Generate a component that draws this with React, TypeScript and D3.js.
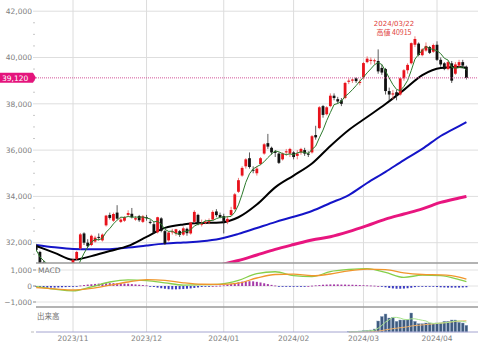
import * as d3 from 'd3'

// trading days shown, per month
const months: [string, number[]][] = [
  ['2023/10', [18, 19, 20, 23, 24, 25, 26, 27, 30, 31]],
  ['2023/11', [1, 2, 6, 7, 8, 9, 10, 13, 14, 15, 16, 17, 20, 21, 22, 24, 27, 28, 29, 30]],
  ['2023/12', [1, 4, 5, 6, 7, 8, 11, 12, 13, 14, 15, 18, 19, 20, 21, 22, 25, 26, 27, 28, 29]],
  ['2024/01', [4, 5, 9, 10, 11, 12, 15, 16, 17, 18, 19, 22, 23, 24, 25, 26, 29, 30, 31]],
  ['2024/02', [1, 2, 5, 6, 7, 8, 9, 13, 14, 15, 16, 19, 20, 21, 22, 26, 27, 28, 29]],
  ['2024/03', [1, 4, 5, 6, 7, 8, 11, 12, 13, 14, 15, 18, 19, 21, 22, 25, 26, 27, 28, 29]],
  ['2024/04', [1, 2, 3, 4, 5, 8, 9, 10, 11]],
]

const open = [
  31880, 31600, 31150, 30800, 30850, 30850, 30600, 30450, 30400, 30300,
  30800, 31300, 31750, 32400, 32000, 31900, 32050, 32250, 32100, 32750,
  33200, 32950, 33300, 32900, 32950, 33200, 33250, 33000, 33150, 32900,
  33100, 32900, 32800, 32450, 33050, 32500, 32100, 32450, 32400, 32500,
  32350, 32600, 32400, 32900, 33200, 32800, 32850, 32900, 33000, 33350,
  33200, 33150, 32900, 33200, 33450, 34200, 34900, 35300, 35650, 35150,
  35000, 35400, 35850, 36300, 36100, 35950, 35850, 35600, 35900, 35850,
  35900, 35750, 35900, 36000, 35850, 35900, 36650, 36950, 37900, 37550,
  37900, 38350, 38200, 38150, 38250, 38950, 39000, 39100, 38900, 39150,
  39800, 39850, 39850, 39850, 39550, 39500, 38550, 38400, 38500, 38400,
  39100, 39450, 39750, 40550, 40600, 40100, 40300, 40450, 40250, 40550,
  39900, 39750, 39500, 39750, 39300, 39650, 39800, 39600,
]
const high = [
  31950, 31650, 31250, 30900, 31000, 31050, 30650, 30750, 30500, 30600,
  31300, 31650, 32420, 32450, 32150, 32350, 32300, 32400, 32400, 33200,
  33300, 33300, 33620, 33100, 33150, 33400, 33500, 33150, 33200, 33200,
  33200, 33000, 32900, 33120, 33100, 32550, 32500, 32600, 32600, 32550,
  32700, 32650, 32900, 33400, 33250, 33000, 33000, 33050, 33400, 33450,
  33300, 33250, 33150, 33550, 34150, 34800, 35300, 35650, 35900, 35300,
  35300, 35700, 36300, 36700, 36150, 36000, 35900, 35900, 36050, 36100,
  35950, 36000, 36100, 36100, 35950, 36650, 37050, 37900, 37950, 37900,
  38450, 38450, 38300, 38250, 38950, 39100, 39100, 39150, 39050, 39800,
  40050, 40000, 39950, 40350, 39700, 39550, 38700, 38600, 38600, 39150,
  39500, 39750, 40650, 40915, 40650, 40400, 40650, 40500, 40600, 40700,
  40000, 39800, 39850, 39850, 39800, 39900, 39900, 39650,
]
const low = [
  31620, 31020, 30850, 30550, 30650, 30800, 30200, 30400, 30150, 30200,
  30750, 31250, 31700, 31900, 31800, 31850, 32000, 32100, 32050, 32700,
  33000, 32900, 33000, 32850, 32900, 33150, 33050, 32950, 32900, 32850,
  32950, 32800, 32400, 32400, 32450, 31900, 32050, 32350, 32300, 32250,
  32300, 32300, 32350, 32850, 32750, 32700, 32800, 32800, 32950, 33100,
  33050, 32400, 32800, 33150, 33400, 34150, 34850, 35200, 35200, 35000,
  34900, 35350, 35800, 36050, 35800, 35700, 35400, 35550, 35750, 35700,
  35600, 35600, 35800, 35750, 35700, 35850, 36450, 36900, 37400, 37500,
  37850, 38150, 38000, 37900, 38200, 38850, 38900, 38900, 38800, 39050,
  39750, 39700, 39700, 39300, 39250, 38400, 38150, 38200, 38150, 38350,
  39000, 39300, 39700, 40450, 40050, 40050, 40250, 40150, 40200, 39850,
  39600, 39450, 39450, 38900, 39250, 39550, 39600, 39050,
]
const close = [
  31690, 31080, 30910, 30650, 30710, 30920, 30250, 30640, 30350, 30510,
  31250, 31600, 32360, 32000, 31850, 32300, 32220, 32240, 32350, 33170,
  33070, 33240, 33040, 33000, 33100, 33280, 33100, 33060, 32970, 33140,
  33080, 32880, 32430, 33100, 32510, 31960, 32440, 32490, 32580, 32340,
  32620, 32410, 32870, 33330, 32790, 32820, 32900, 32950, 33330, 33190,
  33110, 32940, 33030, 33410, 34090, 34700, 35230, 35600, 35270, 35130,
  35200, 35650, 36250, 36150, 35900, 35880, 35450, 35850, 35950, 36050,
  35700, 35850, 36050, 35850, 35800, 36600, 36550, 37850, 37520, 37850,
  38350, 38250, 38100, 38000, 38900, 39000, 39050, 38980, 38950, 39760,
  39950, 39900, 39880, 39400, 39350, 38550, 38400, 38450, 38350, 39100,
  39450, 39680, 40620, 40800, 40110, 40350, 40500, 40200, 40540, 39900,
  39700, 39500, 39800, 39000, 39700, 39800, 39650, 39120,
]

// moving averages read every 5 sessions
const maIdx = [0, 5, 10, 15, 20, 25, 30, 35, 40, 45, 50, 55, 60, 65, 70, 75, 80, 85, 90, 95, 100, 105, 110, 115, 117]
const ma25 = [31860, 31560, 31260, 31420, 31640, 31860, 32250, 32640, 32790, 32850, 32870, 33100, 33650, 34390, 34900, 35420, 36180, 36870, 37430, 37990, 38600, 39240, 39550, 39590, 39560]
const ma75 = [31900, 31800, 31730, 31715, 31720, 31790, 31880, 31960, 32010, 32060, 32170, 32380, 32635, 32890, 33120, 33370, 33715, 34060, 34580, 35060, 35570, 36050, 36610, 37040, 37210]
const ma200 = [null, null, null, null, null, null, null, null, null, 30850, 31040, 31230, 31470, 31710, 31920, 32120, 32260, 32480, 32740, 33020, 33240, 33460, 33740, 33930, 34000]

const macd = [-40, -200, -300, -50, 250, 380, 330, 200, 60, 80, 120, 350, 780, 890, 650, 580, 900, 1030, 1090, 850, 540, 680, 650, 400, 270]
const signal = [-100, -180, -250, -150, 50, 250, 400, 350, 200, 110, 100, 180, 500, 720, 740, 640, 750, 950, 1050, 1020, 820, 720, 690, 560, 430]
const hist = [
  -60, -80, -100, -110, -100, -100, -90, -80, -70, -60,
  -40, -10, 30, 60, 90, 110, 130, 150, 160, 170,
  180, 180, 170, 160, 150, 140, 120, 100, 80, 60,
  40, -20, -60, -100, -140, -170, -200, -210, -210, -200,
  -190, -170, -150, -120, -90, -60, -40, -20, 0, 10,
  20, 40, 80, 130, 180, 230, 270, 290, 300, 290,
  260, 220, 170, 120, 70, 30, -10, -30, -40, -40,
  -40, -40, -30, -20, 0, 20, 40, 60, 80, 90,
  100, 100, 100, 90, 90, 80, 80, 70, 60, 50,
  40, 30, 20, 0, -40, -80, -120, -150, -170, -170,
  -160, -140, -110, -70, -40, -20, -10, -20, -40, -60,
  -80, -90, -100, -100, -100, -100, -90, -80,
]

const volume = [
  0, 0, 0, 0, 0, 0, 0, 0, 0, 0, 0, 0, 0, 0, 0, 0, 0, 0, 0, 0,
  0, 0, 0, 0, 0, 0, 0, 0, 0, 0, 0, 0, 0, 0, 0, 0, 0, 0, 0, 0,
  0, 0, 0, 0, 0, 0, 0, 0, 0, 0, 0, 0, 0, 0, 0, 0, 0, 0, 0, 0,
  0, 0, 0, 0, 0, 0, 0, 0, 0, 0, 0, 0, 0, 0, 0, 0, 0, 0, 0, 0,
  0, 0, 0, 0, 0, 300, 500, 800, 1000, 1300,
  1500, 2000, 3000, 11000, 15500, 18000, 14000, 14700, 10700, 12000,
  12000, 12300, 19000, 10700, 8300, 8300, 9000, 9000, 8300, 9000,
  9000, 10700, 10700, 12000, 12000, 9700, 9000, 6700,
]

const priceTicks = [32000, 34000, 36000, 38000, 40000, 42000]
const macdTicks = [1000, 0, -1000]
const lastPrice = 39120
const peakLabel = ['2024/03/22', '高値 40915']

const dates = months.flatMap(([m, ds]) => ds.map(d => `${m}/${String(d).padStart(2, '0')}`))
const monthStarts = months.slice(1).map(([m]) => ({ label: m, i: dates.findIndex(d => d.startsWith(m)) }))

const FONT = 'DejaVu Sans, Verdana, sans-serif'

export default function App() {
  const W = 480
  const H = 352
  const left = 36
  const right = 478
  const priceBottom = 263
  const macdBottom = 307
  const volBottom = 332

  const x = d3.scaleLinear().domain([10, 109]).range([73, 437])
  const y = d3.scaleLinear().domain([32000, 42000]).range([242.7, 11.2])
  const yM = d3.scaleLinear().domain([-1000, 1000]).range([302, 270])
  const yV = d3.scaleLinear().domain([0, 25000]).range([volBottom, volBottom - 25])

  const ma5 = close.map((_, i) => d3.mean(close.slice(Math.max(0, i - 4), i + 1)) as number)
  const volStart = volume.findIndex(v => v > 0)
  const volMa = (n: number) => volume.map((_, i) => d3.mean(volume.slice(Math.max(0, i - n + 1), i + 1)) as number)
  const vma5 = volMa(5)
  const vma25 = volMa(25)

  const sampled = (vals: (number | null)[], sy: (v: number) => number) =>
    d3.line<number | null>()
      .defined(v => v != null)
      .x((_, k) => x(maIdx[k]))
      .y(v => sy(v as number))
      .curve(d3.curveMonotoneX)(vals) || ''

  const daily = (vals: number[], sy: (v: number) => number, from = 0) =>
    d3.line<number>()
      .x((_, k) => x(k + from))
      .y(v => sy(v))(vals.slice(from)) || ''

  const minor = d3.range(31500, 42500, 500).filter(v => v % 2000 !== 0)
  const cw = 2.8

  return (
    <svg width={W} height={H} style={{ position: 'absolute', left: 0, top: 0, background: '#fff' }} fontFamily={FONT}>
      <defs>
        <clipPath id="pc"><rect x={left} y={0} width={right - left} height={priceBottom} /></clipPath>
      </defs>

      {/* grid */}
      {priceTicks.map(t => (
        <line key={t} x1={33} x2={right} y1={y(t)} y2={y(t)} stroke="#dedede" />
      ))}
      {minor.map(t => (
        <line key={t} x1={33} x2={35} y1={y(t)} y2={y(t)} stroke="#c8c8c8" />
      ))}
      {monthStarts.map(m => (
        <line key={m.label} x1={x(m.i)} x2={x(m.i)} y1={0} y2={volBottom} stroke="#dcdcdc" />
      ))}
      {macdTicks.map(t => (
        <line key={t} x1={33} x2={right} y1={yM(t)} y2={yM(t)} stroke="#e2e2e2" />
      ))}

      {/* price axis labels */}
      {priceTicks.map(t => (
        <text key={t} x={32} y={y(t) + 2.7} fontSize={7.5} textAnchor="end" fill="#808080">{d3.format(',')(t)}</text>
      ))}

      <g clipPath="url(#pc)">
        {/* long MAs */}
        <path d={sampled(ma200, y)} fill="none" stroke="#e8157f" strokeWidth={3} />
        <path d={sampled(ma75, y)} fill="none" stroke="#1414c8" strokeWidth={2} />
        <path d={sampled(ma25, y)} fill="none" stroke="#000" strokeWidth={2} />

        {/* candles */}
        {close.map((c, i) => {
          const o = open[i]
          const up = c >= o
          const col = up ? '#e8121b' : '#111'
          const top = y(Math.max(o, c))
          const h = Math.max(1, y(Math.min(o, c)) - top)
          return (
            <g key={i}>
              <line x1={x(i)} x2={x(i)} y1={y(high[i])} y2={y(low[i])} stroke={up ? '#e85a5a' : '#333'} strokeWidth={0.8} />
              <rect x={x(i) - cw / 2} y={top} width={cw} height={h} fill={col} />
            </g>
          )
        })}

        <path d={daily(ma5, y)} fill="none" stroke="#2c7a2c" strokeWidth={1} />

        {/* last price */}
        <line x1={left} x2={480} y1={y(lastPrice)} y2={y(lastPrice)} stroke="#d4559a" strokeDasharray="1,1" />
      </g>

      {/* peak annotation */}
      {peakLabel.map((t, k) => (
        <text key={t} x={394} y={26 + k * 9} fontSize={7} textAnchor="middle" fill="#e0403a"
          fontFamily={k ? 'Noto Sans CJK JP, DejaVu Sans' : FONT}>{t}</text>
      ))}

      {/* last price tag */}
      <path d={`M0,${y(lastPrice) - 5}H33L36,${y(lastPrice)}L33,${y(lastPrice) + 5}H0Z`} fill="#e4147c" />
      <text x={2} y={y(lastPrice) + 2.7} fontSize={7.5} fill="#fff">{d3.format(',')(lastPrice)}</text>

      {/* panel separators */}
      <line x1={left} x2={right} y1={priceBottom} y2={priceBottom} stroke="#9a9a9a" strokeWidth={1.5} />
      <line x1={left} x2={right} y1={macdBottom} y2={macdBottom} stroke="#9a9a9a" strokeWidth={1.5} />

      {/* MACD */}
      {hist.map((v, i) => (
        <rect key={i} x={x(i) - 1} width={2}
          y={Math.min(yM(v), yM(0))} height={Math.max(0.8, Math.abs(yM(v) - yM(0)))}
          fill={v >= 0 ? '#a53aa8' : '#3c3cc0'} />
      ))}
      <path d={sampled(macd, yM)} fill="none" stroke="#86cf4a" strokeWidth={1.3} />
      <path d={sampled(signal, yM)} fill="none" stroke="#f0962c" strokeWidth={1.3} />
      {macdTicks.map(t => (
        <g key={t}>
          <text x={32} y={yM(t) + 2.7} fontSize={7.5} textAnchor="end" fill="#808080">{d3.format(',')(t)}</text>
          <line x1={33} x2={36} y1={yM(t)} y2={yM(t)} stroke="#999" />
        </g>
      ))}
      <text x={38} y={yM(1000) + 2.7} fontSize={7.5} fill="#707070">MACD</text>

      {/* volume */}
      {volume.map((v, i) => v > 0 && (
        <rect key={i} x={x(i) - 1.4} width={2.8} y={yV(v)} height={volBottom - yV(v)}
          fill="#3e5a7e" stroke="#8aa4c4" strokeWidth={0.4} />
      ))}
      <path d={daily(vma25, yV, volStart)} fill="none" stroke="#f2b26a" strokeWidth={1} />
      <path d={daily(vma5, yV, volStart)} fill="none" stroke="#a8e48c" strokeWidth={1} />
      <text x={37} y={319} fontSize={7.5} fill="#707070" fontFamily="Noto Sans CJK JP, DejaVu Sans">出来高</text>
      <line x1={31} x2={34} y1={volBottom} y2={volBottom} stroke="#bbb" />
      <line x1={left} x2={right} y1={volBottom} y2={volBottom} stroke="#a4a4d0" />

      {/* x axis labels */}
      {monthStarts.map(m => (
        <text key={m.label} x={x(m.i)} y={341} fontSize={7.5} textAnchor="middle" fill="#808080">{m.label}</text>
      ))}
    </svg>
  )
}
